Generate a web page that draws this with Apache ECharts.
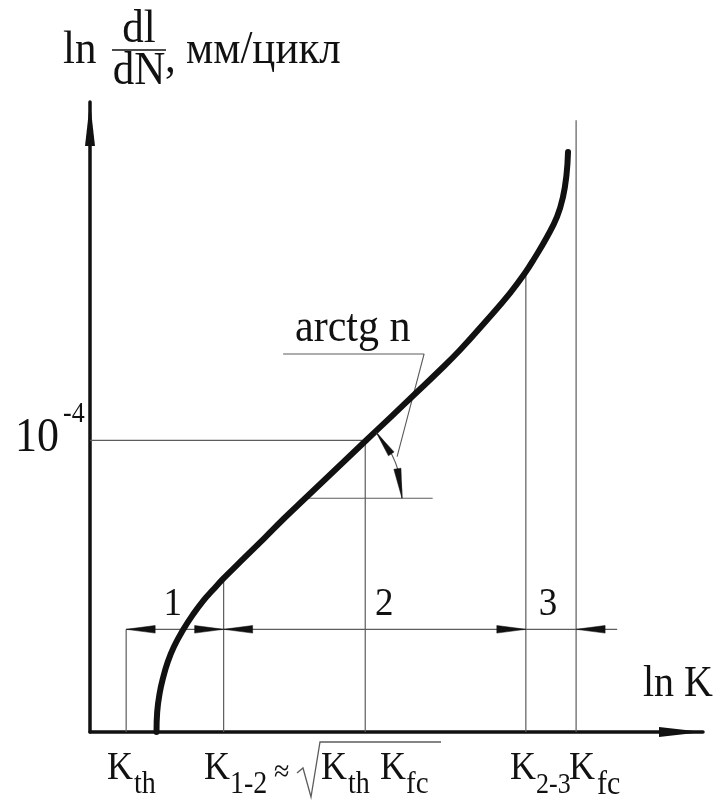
<!DOCTYPE html>
<html>
<head>
<meta charset="utf-8">
<title>Кинетическая диаграмма усталостного разрушения</title>
<script src="https://cdn.jsdelivr.net/npm/echarts@6/dist/echarts.min.js"></script>
<style>
  html, body { margin: 0; padding: 0; background: #ffffff; }
  #chart { width: 718px; height: 800px; }
</style>
</head>
<body>
<div id="chart"></div>
<script>
// Fatigue crack growth diagram: ln(dl/dN) against ln K, schematic units 0..100 on both axes.

// Crack growth rate curve (ln K, ln dl/dN)
const curveX = [10.85, 10.96, 11.37, 11.91, 12.68, 13.67, 15.17, 16.80, 18.43, 20.07,
                21.70, 25.12, 28.38, 31.65, 35.07, 38.34, 41.60, 45.02, 49.10, 53.18,
                56.77, 60.36, 64.76, 68.52, 70.96, 72.43, 74.55, 76.18, 77.16, 77.73, 77.98];
const curveY = [0.00, 3.17, 6.19, 8.57, 11.11, 13.49, 16.19, 18.65, 20.79, 22.57,
                24.29, 27.59, 30.71, 33.89, 37.06, 40.08, 43.10, 46.27, 50.03, 53.81,
                57.14, 60.63, 65.40, 69.68, 72.86, 75.08, 78.57, 81.75, 84.92, 88.41, 92.06];

// Characteristic stress intensity levels: K_th, K_1-2, sqrt(K_th*K_fc), K_2-3, K_fc
const markerX = [5.9, 21.8, 44.9, 71.1, 79.3];
const markerTop = [16.3, 24.3, 46.3, 72.9, 97.1];

// Rate level 10^-4 mm/cycle
const rateLevel = 46.3;

// Stage dimension line and stage numbers
const stageLineY = 16.3;
const stageLineEnd = 86.0;
const stageNames = ['1', '2', '3'];
const stageLabelX = [13.5, 48.0, 74.7];
const stageLabelY = 20.3;

// Slope construction: base line, leader for "arctg n", angle arc
const tangentBaseX = [35.1, 55.9];
const tangentBaseY = 37.1;
const leaderX = [31.5, 54.5, 50.1];
const leaderY = [60.0, 60.0, 43.7];
const angleVertex = [35.1, 37.1];
const angleOnCurve = [46.7, 47.5];
const angleOnBase = [50.9, 37.1];

const FONT = "'Liberation Serif', 'Times New Roman', serif";
const INK = '#111111';
const THIN = '#5c5c5c';
const STRETCH = 1.1;

const chart = echarts.init(document.getElementById('chart'));

// Slim filled arrowhead: tip point, base centre point, half width
function arrowHead(tip, base, halfW) {
  const dx = tip[0] - base[0], dy = tip[1] - base[1];
  const len = Math.sqrt(dx * dx + dy * dy) || 1;
  const nx = -dy / len, ny = dx / len;
  return {
    type: 'polygon',
    shape: { points: [tip, [base[0] + nx * halfW, base[1] + ny * halfW], [base[0] - nx * halfW, base[1] - ny * halfW]] },
    style: { fill: INK, stroke: INK, lineWidth: 0.5 }
  };
}

function label(text, x, y, size, align, vAlign) {
  return {
    type: 'text', x: x, y: y, scaleY: STRETCH, z: 20,
    style: {
      text: text, x: 0, y: 0, font: size + 'px ' + FONT, fill: INK,
      align: align || 'left', textAlign: align || 'left',
      verticalAlign: vAlign || 'middle', textVerticalAlign: vAlign || 'middle'
    }
  };
}

const ARROW = 'path://M5 0 L10 44 L0 44 Z';
const axisCommon = {
  type: 'value', min: 0, max: 100,
  axisLine: {
    show: true, onZero: false,
    lineStyle: { color: INK, width: 3.5 },
    symbol: ['none', ARROW], symbolSize: [11, 44], symbolOffset: [0, -22]
  },
  axisTick: { show: false }, axisLabel: { show: false }, splitLine: { show: false }
};

const horizontalSegments = [
  [0, rateLevel, markerX[2], rateLevel],
  [markerX[0], stageLineY, stageLineEnd, stageLineY],
  [tangentBaseX[0], tangentBaseY, tangentBaseX[1], tangentBaseY]
];

// Arrow tips on the stage dimension line: [x, y, direction] (0 = right, 180 = left)
const stageArrows = [
  [markerX[0], stageLineY, 180],
  [markerX[1], stageLineY, 0],
  [markerX[1], stageLineY, 180],
  [markerX[3], stageLineY, 0],
  [markerX[4], stageLineY, 180]
];

const option = {
  animation: false,
  backgroundColor: '#ffffff',
  grid: { left: 90, right: 15, top: 102, bottom: 68 },
  xAxis: axisCommon,
  yAxis: axisCommon,
  series: [
    {
      name: 'da/dN', type: 'line', z: 5,
      data: curveX.map((x, i) => [x, curveY[i]]),
      smooth: 0.45, symbol: 'none',
      lineStyle: { color: INK, width: 6, cap: 'round', join: 'round' }
    },
    {
      name: 'levels', type: 'custom', z: 3,
      data: markerX.map((x, i) => [x, markerTop[i]]),
      encode: { x: 0, y: 1 },
      renderItem: function (params, api) {
        const p0 = api.coord([api.value(0), 0]);
        const p1 = api.coord([api.value(0), api.value(1)]);
        return { type: 'line', shape: { x1: p0[0], y1: p0[1], x2: p1[0], y2: p1[1] },
                 style: { stroke: THIN, lineWidth: 1.2 } };
      }
    },
    {
      name: 'horizontals', type: 'custom', z: 3,
      data: horizontalSegments,
      encode: { x: [0, 2], y: [1, 3] },
      renderItem: function (params, api) {
        const p0 = api.coord([api.value(0), api.value(1)]);
        const p1 = api.coord([api.value(2), api.value(3)]);
        return { type: 'line', shape: { x1: p0[0], y1: p0[1], x2: p1[0], y2: p1[1] },
                 style: { stroke: THIN, lineWidth: 1.2 } };
      }
    },
    {
      name: 'leader', type: 'line', z: 3,
      data: leaderX.map((x, i) => [x, leaderY[i]]),
      symbol: 'none', lineStyle: { color: THIN, width: 1.1 }
    },
    {
      name: 'stage arrows', type: 'custom', z: 6,
      data: stageArrows,
      encode: { x: 0, y: 1 },
      renderItem: function (params, api) {
        const tip = api.coord([api.value(0), api.value(1)]);
        const a = api.value(2) * Math.PI / 180;
        const L = 29;
        const base = [tip[0] - Math.cos(a) * L, tip[1] - Math.sin(a) * L];
        return arrowHead(tip, base, 3.8);
      }
    },
    {
      name: 'angle', type: 'custom', z: 6,
      data: [[angleVertex[0], angleVertex[1], angleOnCurve[0], angleOnCurve[1], angleOnBase[0], angleOnBase[1]]],
      encode: { x: [0, 2, 4], y: [1, 3, 5] },
      renderItem: function (params, api) {
        const c = api.coord([api.value(0), api.value(1)]);
        const a = api.coord([api.value(2), api.value(3)]);
        const b = api.coord([api.value(4), api.value(5)]);
        const r = Math.sqrt((b[0] - c[0]) ** 2 + (b[1] - c[1]) ** 2);
        const angA = Math.atan2(a[1] - c[1], a[0] - c[0]);
        const angB = Math.atan2(b[1] - c[1], b[0] - c[0]);
        const pA = [c[0] + r * Math.cos(angA), c[1] + r * Math.sin(angA)];
        const pB = [c[0] + r * Math.cos(angB), c[1] + r * Math.sin(angB)];
        const dA = 26 / r, dB = 30 / r;
        const baseA = [c[0] + r * Math.cos(angA + dA), c[1] + r * Math.sin(angA + dA)];
        const baseB = [c[0] + r * Math.cos(angB - dB), c[1] + r * Math.sin(angB - dB)];
        return {
          type: 'group',
          children: [
            { type: 'arc', shape: { cx: c[0], cy: c[1], r: r, startAngle: angA, endAngle: angB, clockwise: true },
              style: { stroke: THIN, lineWidth: 1.1, fill: null } },
            arrowHead(pA, baseA, 3.4),
            arrowHead(pB, baseB, 3.6)
          ]
        };
      }
    },
    {
      name: 'stages', type: 'custom', z: 7,
      data: stageLabelX.map((x, i) => [x, stageLabelY, i]),
      encode: { x: 0, y: 1 },
      renderItem: function (params, api) {
        const p = api.coord([api.value(0), api.value(1)]);
        return label(stageNames[api.value(2)], p[0], p[1], 37, 'center');
      }
    }
  ],
  graphic: [
    // axis titles
    label('ln', 63, 51, 43),
    label('dl', 139, 30, 43, 'center'),
    { type: 'line', shape: { x1: 112, y1: 50, x2: 166, y2: 50 }, style: { stroke: INK, lineWidth: 1.4 } },
    label('dN', 139, 72, 43, 'center'),
    label(',', 165, 60, 43),
    label('мм/цикл', 186, 51, 43),
    label('ln K', 643, 684, 40),
    // rate level
    label('10', 15, 438, 44),
    label('-4', 63, 414, 26),
    // slope
    label('arctg n', 295, 329, 42),
    // stress intensity levels
    label('K', 107, 769, 36), label('th', 134, 785, 28),
    label('K', 204, 769, 36), label('1-2', 230, 785, 28),
    label('≈', 274, 773, 28),
    { type: 'polyline', shape: { points: [[297, 773], [303, 768], [311, 797], [320, 742], [441, 742]] },
      style: { stroke: THIN, lineWidth: 1.3, fill: null } },
    label('K', 321, 769, 36), label('th', 348, 785, 28),
    label('K', 380, 769, 36), label('fc', 406, 785, 29),
    label('K', 510, 769, 36), label('2-3', 536, 785, 26),
    label('K', 569, 769, 36), label('fc', 597, 785, 30)
  ]
};

chart.setOption(option);
</script>
</body>
</html>
